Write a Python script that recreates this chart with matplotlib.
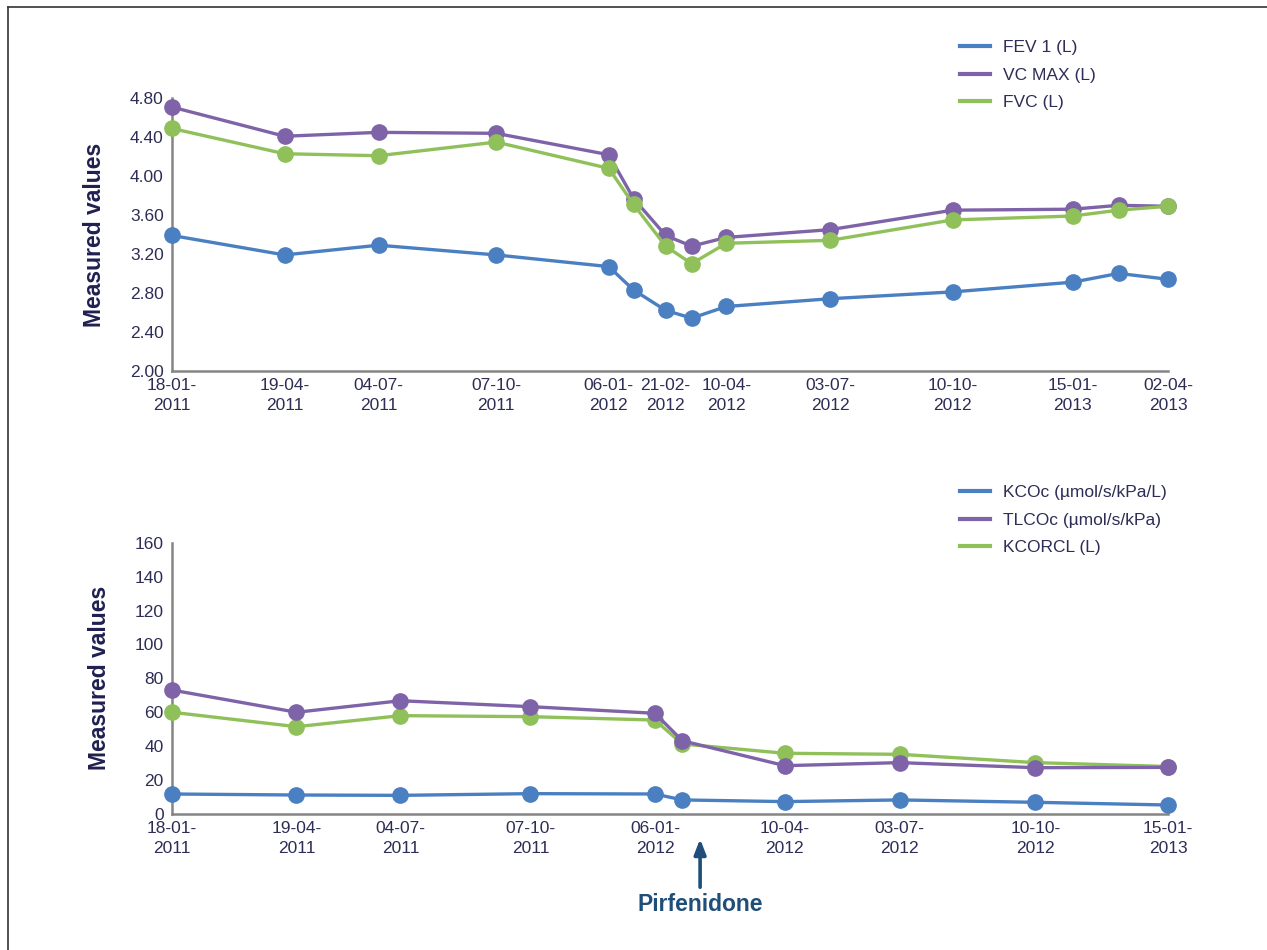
import matplotlib
matplotlib.use("Agg")
import matplotlib.pyplot as plt
import matplotlib.dates as mdates
import pandas as pd

plt.rcParams["font.family"] = ["Liberation Sans", "DejaVu Sans"]

# spirometry (top panel)
top_dates = ["18-01-2011", "19-04-2011", "04-07-2011", "07-10-2011", "06-01-2012",
             "26-01-2012", "21-02-2012", "13-03-2012", "10-04-2012", "03-07-2012",
             "10-10-2012", "15-01-2013", "21-02-2013", "02-04-2013"]
top_ticks = ["18-01-2011", "19-04-2011", "04-07-2011", "07-10-2011", "06-01-2012",
             "21-02-2012", "10-04-2012", "03-07-2012", "10-10-2012", "15-01-2013",
             "02-04-2013"]
fev1 = [3.39, 3.19, 3.29, 3.19, 3.07, 2.83, 2.62, 2.54, 2.66, 2.74, 2.81, 2.91, 3.00, 2.94]
vc_max = [4.71, 4.41, 4.45, 4.44, 4.22, 3.77, 3.39, 3.28, 3.37, 3.45, 3.65, 3.66, 3.70, 3.69]
fvc = [4.49, 4.23, 4.21, 4.35, 4.08, 3.71, 3.28, 3.10, 3.31, 3.34, 3.55, 3.59, 3.65, 3.69]

# diffusion (bottom panel)
bot_dates = ["18-01-2011", "19-04-2011", "04-07-2011", "07-10-2011", "06-01-2012",
             "26-01-2012", "10-04-2012", "03-07-2012", "10-10-2012", "15-01-2013"]
bot_ticks = ["18-01-2011", "19-04-2011", "04-07-2011", "07-10-2011", "06-01-2012",
             "10-04-2012", "03-07-2012", "10-10-2012", "15-01-2013"]
kcoc = [11.8, 11.2, 11.0, 12.0, 11.8, 8.3, 7.3, 8.3, 6.9, 5.3]
tlcoc = [73.1, 60.0, 66.8, 63.3, 59.4, 43.2, 28.5, 30.3, 27.3, 27.5]
kcorcl = [60.0, 51.5, 58.0, 57.4, 55.4, 41.3, 35.8, 35.2, 30.3, 28.0]

pirfenidone_date = "08-02-2012"

BLUE, PURPLE, GREEN = "#4a7fc1", "#7f63a8", "#8fc05a"
TEXT = "#2d2d55"
SPINE = "#858585"


def to_dt(values):
    return pd.to_datetime(values, format="%d-%m-%Y")


def style_axis(ax, dates, ticks):
    for side in ("top", "right"):
        ax.spines[side].set_visible(False)
    for side in ("left", "bottom"):
        ax.spines[side].set_color(SPINE)
        ax.spines[side].set_linewidth(1.8)
    d = to_dt(dates)
    ax.set_xlim(d[0], d[-1])
    ax.set_xticks(to_dt(ticks))
    ax.set_xticklabels([s[:6] + "\n" + s[6:] for s in ticks], linespacing=1.45)
    ax.tick_params(length=0, labelsize=12.5, labelcolor=TEXT)
    ax.tick_params(axis="y", pad=6)
    ax.tick_params(axis="x", pad=5)
    ax.set_ylabel("Measured values", fontsize=16.5, fontweight="bold",
                  color="#1f2050", labelpad=17)


def draw(ax, dates, series, zorders):
    d = to_dt(dates)
    for (vals, color, label), z in zip(series, zorders):
        ax.plot(d, vals, color=color, lw=2.4, marker="o", ms=11,
                label=label, clip_on=False, zorder=z)


def legend(ax, top):
    leg = ax.legend(loc="upper left", bbox_to_anchor=(960 / 1267, top),
                    bbox_transform=ax.figure.transFigure, frameon=False,
                    borderpad=0, borderaxespad=0, handlelength=1.75,
                    handletextpad=0.7, labelspacing=0.72, fontsize=12.5)
    for line in leg.get_lines():
        line.set_marker("")
        line.set_linewidth(3)
    for txt in leg.get_texts():
        txt.set_color(TEXT)


fig = plt.figure(figsize=(12.67, 9.5), dpi=100)

ax1 = fig.add_axes([172 / 1267, 1 - 370.7 / 950, 996 / 1267, 272.4 / 950])
draw(ax1, top_dates,
     [(fev1, BLUE, "FEV 1 (L)"), (vc_max, PURPLE, "VC MAX (L)"), (fvc, GREEN, "FVC (L)")],
     [3, 4, 5])
ax1.set_ylim(2.0, 4.8)
ax1.set_yticks([2.0 + 0.4 * i for i in range(8)])
ax1.yaxis.set_major_formatter(plt.FormatStrFormatter("%.2f"))
style_axis(ax1, top_dates, top_ticks)
legend(ax1, 1 - 40 / 950)

ax2 = fig.add_axes([172 / 1267, 1 - 814 / 950, 996 / 1267, 271.3 / 950])
draw(ax2, bot_dates,
     [(kcoc, BLUE, "KCOc (µmol/s/kPa/L)"), (tlcoc, PURPLE, "TLCOc (µmol/s/kPa)"),
      (kcorcl, GREEN, "KCORCL (L)")],
     [3, 5, 4])
ax2.set_ylim(0, 160)
ax2.set_yticks(range(0, 161, 20))
style_axis(ax2, bot_dates, bot_ticks)
legend(ax2, 1 - 485 / 950)

# treatment start marker
pd_x = mdates.date2num(to_dt([pirfenidone_date])[0])
trans = ax2.get_xaxis_transform()
ax2.annotate("", xy=(pd_x, -0.092), xytext=(pd_x, -0.27), xycoords=trans,
             textcoords=trans, annotation_clip=False,
             arrowprops=dict(arrowstyle="-|>,head_length=0.9,head_width=0.35",
                             color="#1f4e79", lw=2.6, shrinkA=0, shrinkB=0))
ax2.text(pd_x, -0.335, "Pirfenidone", transform=trans, ha="center", va="center",
         fontsize=16.5, fontweight="bold", color="#1f4e79")

# thin frame on top and left edges
fig.add_artist(plt.Line2D([8 / 1267, 1], [1 - 7 / 950, 1 - 7 / 950],
                          transform=fig.transFigure, color="#333333", lw=1.2))
fig.add_artist(plt.Line2D([8 / 1267, 8 / 1267], [0, 1 - 7 / 950],
                          transform=fig.transFigure, color="#333333", lw=1.2))

fig.savefig("out.png", dpi=100)
